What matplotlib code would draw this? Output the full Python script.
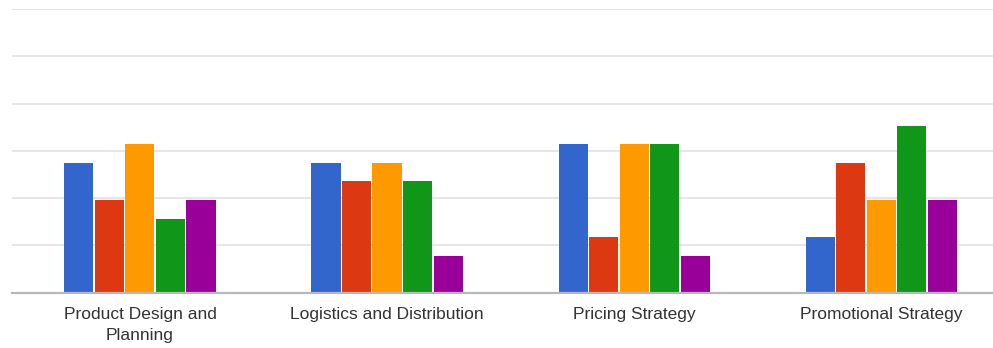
import matplotlib.pyplot as plt
import numpy as np

categories = ['Product Design and\nPlanning', 'Logistics and Distribution',
              'Pricing Strategy', 'Promotional Strategy']
series_a = [7, 7, 8, 3]
series_b = [5, 6, 3, 7]
series_c = [8, 7, 8, 5]
series_d = [4, 6, 8, 9]
series_e = [5, 2, 2, 5]
colors = ['#3366cc', '#dc3912', '#ff9900', '#109618', '#990099']

plt.rcParams['font.family'] = ['Liberation Sans', 'DejaVu Sans']

fig = plt.figure(figsize=(9.93, 3.48), dpi=100)
ax = fig.add_axes([12 / 993, 1 - 292.7 / 348, 1 - 12 / 993, (292.7 - 9) / 348])

x = np.arange(len(categories))
pitch = 0.1235
all_series = [series_a, series_b, series_c, series_d, series_e]
for i, vals in enumerate(all_series):
    ax.bar(x + (i - 2) * pitch, vals, width=pitch - 0.006, color=colors[i], zorder=3)

ymax = 15.3
ax.set_xlim(-0.518, 3.453)
ax.set_ylim(0, ymax)
ax.set_yticks(np.linspace(0, ymax, 7))
ax.yaxis.grid(True, color='#e4e4e4', linewidth=1.3, zorder=0)
ax.tick_params(axis='y', left=False, labelleft=False)
ax.set_xticks(x)
ax.set_xticklabels(categories, fontsize=12.5, color='#333333', linespacing=1.55)
ax.tick_params(axis='x', length=0, pad=10)
for s in ['left', 'right', 'top']:
    ax.spines[s].set_visible(False)
ax.spines['bottom'].set_color('#b8b8b8')
ax.spines['bottom'].set_linewidth(1.6)
ax.spines['bottom'].set_zorder(4)

fig.savefig('out.png', dpi=100)
